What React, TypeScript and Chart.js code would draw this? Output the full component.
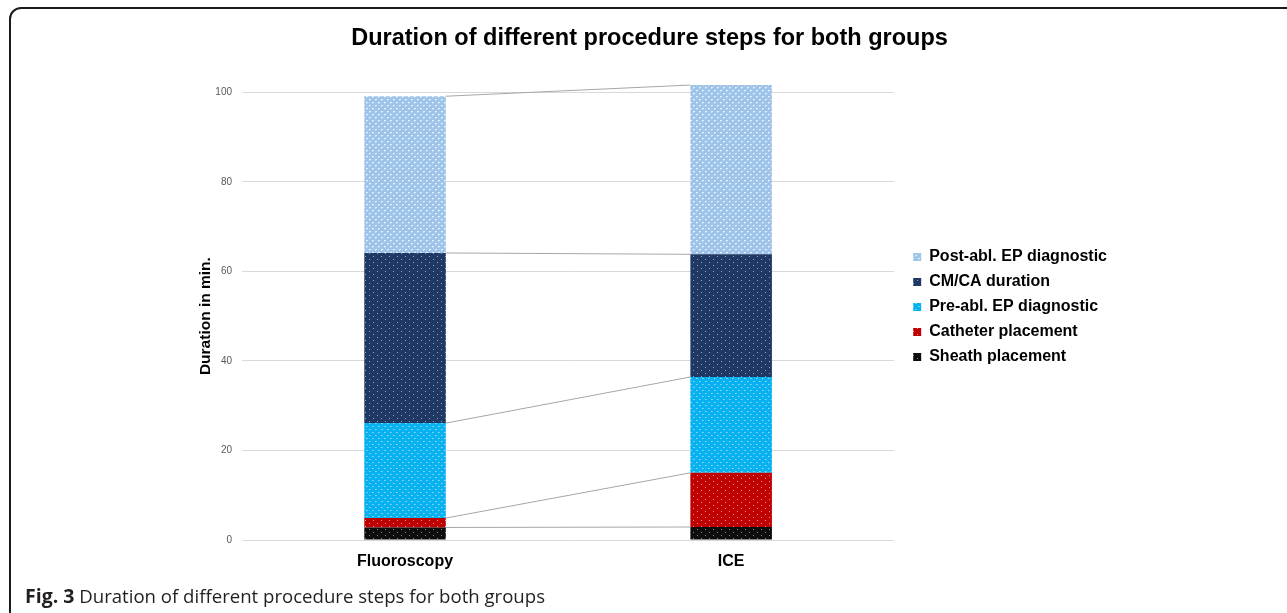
import React, { useEffect, useRef } from "react";
import { Chart, registerables } from "chart.js";

Chart.register(...registerables);

const categories = ["Fluoroscopy", "ICE"];
const seriesNames = [
  "Sheath placement",
  "Catheter placement",
  "Pre-abl. EP diagnostic",
  "CM/CA duration",
  "Post-abl. EP diagnostic",
];
const sheathPlacement = [2.8, 2.9];
const catheterPlacement = [2.1, 12.1];
const preAblDiagnostic = [21.2, 21.4];
const cmcaDuration = [38.0, 27.4];
const postAblDiagnostic = [35.0, 37.8];
const yTickValues = [0, 20, 40, 60, 80, 100];

const chartTitle = "Duration of different procedure steps for both groups";
const yAxisTitle = "Duration in min.";

const FONT = "'Liberation Sans', Arial, sans-serif";

function makePattern(kind: string): CanvasPattern | string {
  const c = document.createElement("canvas");
  const ctx = c.getContext("2d");
  if (!ctx) return "#888";
  if (kind === "post") {
    c.width = 6; c.height = 6;
    ctx.fillStyle = "#9fc4ea";
    ctx.fillRect(0, 0, 6, 6);
    ctx.fillStyle = "#e6f0fb";
    ctx.fillRect(0, 0, 2, 1);
    ctx.fillRect(3, 3, 2, 1);
    ctx.fillStyle = "#c3dbf3";
    ctx.fillRect(0, 1, 1, 1);
    ctx.fillRect(3, 4, 1, 1);
  } else if (kind === "pre") {
    c.width = 6; c.height = 6;
    ctx.fillStyle = "#08b1f0";
    ctx.fillRect(0, 0, 6, 6);
    ctx.fillStyle = "#8bd9f8";
    ctx.fillRect(0, 0, 1, 1);
    ctx.fillRect(3, 3, 1, 1);
    ctx.fillStyle = "#5ac9f5";
    ctx.fillRect(1, 0, 1, 1);
    ctx.fillRect(4, 3, 1, 1);
  } else {
    const bg = kind === "cm" ? "#1f3864" : kind === "cath" ? "#c00000" : "#0d0d0d";
    const fg = kind === "cm" ? "#8fa3c8" : kind === "cath" ? "#e59a9a" : "#8a8a8a";
    c.width = 8; c.height = 6;
    ctx.fillStyle = bg;
    ctx.fillRect(0, 0, 8, 6);
    ctx.fillStyle = fg;
    ctx.fillRect(1, 1, 1, 1);
    ctx.fillRect(5, 4, 1, 1);
  }
  return ctx.createPattern(c, "repeat") || "#888";
}

const seriesLinesPlugin = {
  id: "seriesLines",
  afterDatasetsDraw(chart: any) {
    const ctx = chart.ctx;
    ctx.save();
    ctx.strokeStyle = "#a6a6a6";
    ctx.lineWidth = 1;
    chart.data.datasets.forEach((_ds: any, i: number) => {
      const meta = chart.getDatasetMeta(i);
      for (let j = 0; j < meta.data.length - 1; j++) {
        const a: any = meta.data[j];
        const b: any = meta.data[j + 1];
        ctx.beginPath();
        ctx.moveTo(a.x + a.width / 2, a.y);
        ctx.lineTo(b.x - b.width / 2, b.y);
        ctx.stroke();
      }
    });
    ctx.restore();
  },
};

const legendShiftPlugin = {
  id: "legendShift",
  afterLayout(chart: any) {
    const l = chart.legend;
    if (l) {
      l.left += 10;
      l.right += 10;
    }
  },
};

export default function App() {
  const ref = useRef<HTMLCanvasElement | null>(null);

  useEffect(() => {
    if (!ref.current) return;
    const values = [
      sheathPlacement,
      catheterPlacement,
      preAblDiagnostic,
      cmcaDuration,
      postAblDiagnostic,
    ];
    const kinds = ["sheath", "cath", "pre", "cm", "post"];
    const datasets = seriesNames.map((name, i) => ({
      label: name,
      data: values[i],
      backgroundColor: makePattern(kinds[i]) as any,
      borderWidth: 0,
      clip: false as any,
      barPercentage: 0.5,
      categoryPercentage: 0.5,
    }));

    const chart = new Chart(ref.current, {
      type: "bar",
      data: { labels: categories, datasets },
      plugins: [seriesLinesPlugin, legendShiftPlugin],
      options: {
        animation: false,
        responsive: false,
        maintainAspectRatio: false,
        devicePixelRatio: 1,
        layout: { padding: { left: 192, right: 180, top: 0, bottom: 0 } },
        plugins: {
          title: {
            display: true,
            text: chartTitle,
            color: "#000",
            font: { family: FONT, size: 23.5, weight: "bold" },
            padding: { top: 24, bottom: 40 },
          },
          legend: {
            position: "right",
            reverse: true,
            labels: {
              boxWidth: 8,
              boxHeight: 8,
              padding: 9,
              color: "#000",
              font: { family: FONT, size: 16, weight: "bold" },
            },
          },
          tooltip: { enabled: false },
        },
        scales: {
          x: {
            stacked: true,
            grid: { display: false },
            border: { display: false },
            ticks: {
              color: "#000",
              padding: 4,
              font: { family: FONT, size: 16, weight: "bold" },
            },
            afterFit(scale: any) {
              scale.height = 74;
            },
          },
          y: {
            stacked: true,
            min: 0,
            max: 100,
            afterBuildTicks(scale: any) {
              scale.ticks = yTickValues.map((v) => ({ value: v }));
            },
            grid: { color: "#d9d9d9", lineWidth: 1, drawTicks: false },
            border: { display: false },
            ticks: {
              color: "#595959",
              padding: 10,
              font: { family: FONT, size: 10 },
            },
            title: {
              display: true,
              text: yAxisTitle,
              color: "#000",
              font: { family: FONT, size: 15.5, weight: "bold" },
            },
            afterFit(scale: any) {
              scale.width = 50;
            },
          },
        },
      },
    });
    return () => chart.destroy();
  }, []);

  return (
    <div
      style={{
        position: "fixed",
        left: 0,
        top: 0,
        width: 1287,
        height: 613,
        overflow: "hidden",
        background: "#fff",
      }}
    >
      <div
        style={{
          position: "absolute",
          left: 9,
          top: 7,
          width: 1400,
          height: 700,
          border: "2px solid #1a1a1a",
          borderRadius: 12,
          boxSizing: "border-box",
        }}
      />
      <canvas
        ref={ref}
        width={1287}
        height={614}
        style={{ position: "absolute", left: 0, top: 0, width: 1287, height: 614 }}
      />
      <div
        style={{
          position: "absolute",
          left: 25,
          top: 583,
          fontFamily: "'Open Sans', sans-serif",
          fontSize: 18.6,
          color: "#231f20",
          whiteSpace: "nowrap",
          lineHeight: "26px",
        }}
      >
        <b style={{ fontSize: 19.5 }}>Fig. 3</b> Duration of different procedure steps for both groups
      </div>
    </div>
  );
}
